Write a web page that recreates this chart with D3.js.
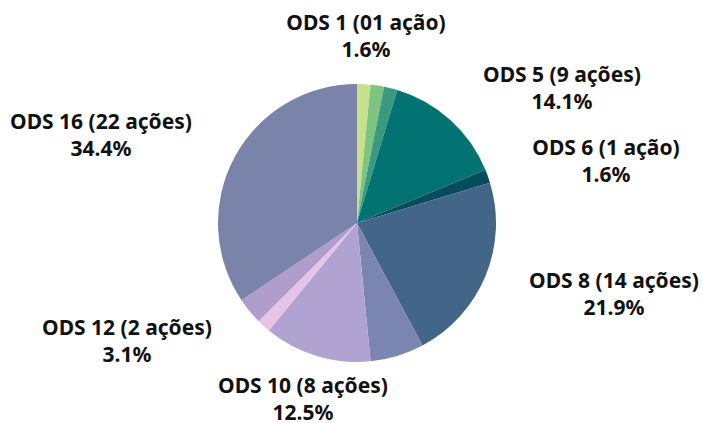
<!DOCTYPE html>
<html>
<head>
<meta charset="utf-8">
<script src="https://cdn.jsdelivr.net/npm/d3@7"></script>
<style>
  body { margin: 0; background: #fff; }
  text { font-family: "Noto Sans", "Open Sans", sans-serif; font-weight: bold; fill: #111; }
</style>
</head>
<body>
<div id="chart"></div>
<script>
// slices, clockwise from 12 o'clock
const categories = ["ODS 1", "ODS 2", "ODS 3", "ODS 5", "ODS 6", "ODS 8", "ODS 9", "ODS 10", "ODS 11", "ODS 12", "ODS 16"];
const acoes = [1, 1, 1, 9, 1, 14, 4, 8, 1, 2, 22];
const labelText = ["ODS 1 (01 ação)", null, null, "ODS 5 (9 ações)", "ODS 6 (1 ação)", "ODS 8 (14 ações)", null, "ODS 10 (8 ações)", null, "ODS 12 (2 ações)", "ODS 16 (22 ações)"];
const colors = ["#c6e08c", "#7cc47f", "#3a9a80", "#027272", "#054d5e", "#436688", "#7a86b0", "#b1a3d1", "#e8c3e8", "#b09dcc", "#7a83aa"];

const width = 703, height = 423;
const cx = 357, cy = 223, r = 139;

// label anchors (centre x, first baseline), tuned by eye
const labelPos = {
    "ODS 1": [366, 30],
    "ODS 5": [562, 82],
    "ODS 6": [606, 155],
    "ODS 8": [614, 288],
    "ODS 10": [303, 393],
    "ODS 12": [127, 335],
    "ODS 16": [101, 129]
};

const svg = d3.select("#chart").append("svg")
    .attr("width", width)
    .attr("height", height);

const total = d3.sum(acoes);
const data = categories.map((c, i) => ({cat: c, value: acoes[i], label: labelText[i], color: colors[i]}));

const pie = d3.pie().value(d => d.value).sort(null);
const arc = d3.arc().innerRadius(0).outerRadius(r);

const g = svg.append("g").attr("transform", `translate(${cx},${cy})`);

g.selectAll("path.slice")
    .data(pie(data))
    .enter()
    .append("path")
    .attr("class", "slice")
    .attr("fill", d => d.data.color)
    .attr("d", arc);

// labels
const fmt = d3.format(".1%");
const lab = svg.selectAll("text.lbl")
    .data(data.filter(d => d.label))
    .enter()
    .append("text")
    .attr("class", "lbl")
    .attr("text-anchor", "middle")
    .attr("font-size", 21)
    .attr("transform", d => `translate(${labelPos[d.cat][0]},${labelPos[d.cat][1]})`);

lab.append("tspan").attr("x", 0).attr("y", 0).text(d => d.label);
lab.append("tspan").attr("x", 0).attr("y", 27).text(d => fmt(d.value / total));
</script>
</body>
</html>
